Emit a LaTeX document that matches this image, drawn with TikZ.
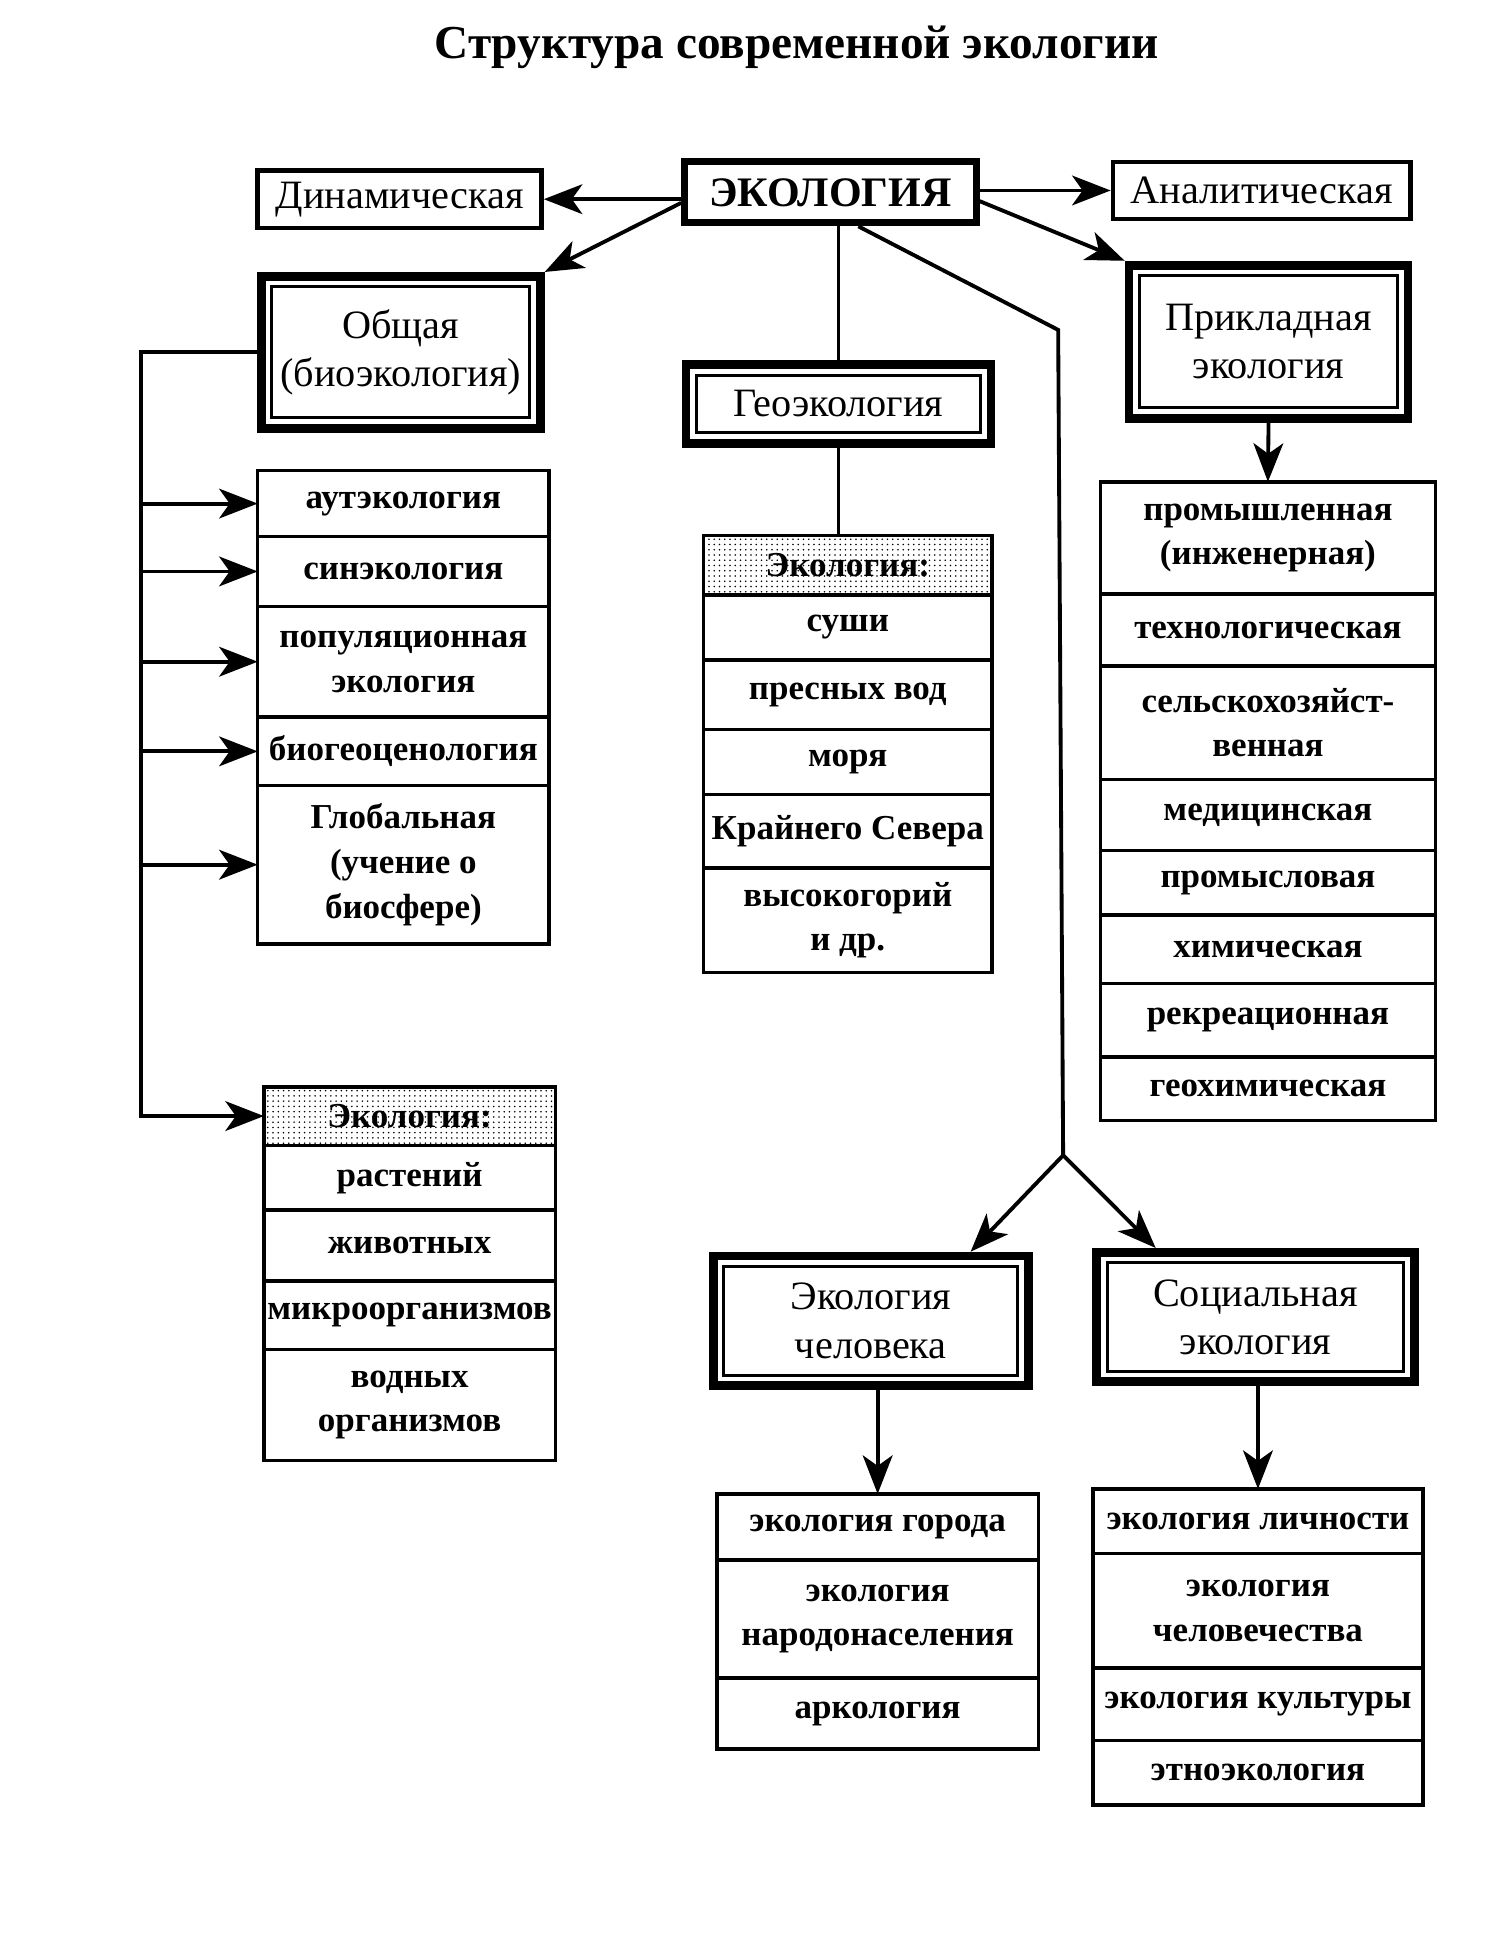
\documentclass[tikz,border=0pt]{standalone}
\usepackage{fontspec}
\setmainfont{Liberation Serif}
\usepackage{tikz}
\usetikzlibrary{arrows.meta}
\usetikzlibrary{patterns}
\usetikzlibrary{positioning}
\newcommand\cellfont{\bfseries\fontsize{20}{25.5}\selectfont}
\newcommand\boxfont{\fontsize{23}{27.5}\selectfont}
\tikzstyle{arrow} = [->,>={Stealth[length=22pt,width=17pt,inset=6pt]}, line width=2.2pt]
\tikzstyle{link} = [line width=2.2pt]
\tikzset{cell/.style={draw, line width=2pt, inner sep=1pt, outer sep=0pt, align=center, font=\cellfont},
  headcell/.style={cell, pattern=dots},
  box/.style={draw, line width=2.6pt, inner sep=1pt, align=center, font=\boxfont},
  bigbox/.style={draw, line width=5pt, inner sep=1pt, align=center, font=\boxfont},
  innerframe/.style={draw, line width=1.6pt}}

\begin{document}
\begin{tikzpicture}[x=0.025cm,y=-0.025cm]
        \useasboundingbox (0,0) rectangle (1210,1568);
        % Title
        \node (title) at (640,38) {\bfseries\fontsize{27}{30}\selectfont Структура современной экологии};

        % Top row
        \node[box, line width=4pt, font=\bfseries\fontsize{24}{28}\selectfont, minimum width=5.85cm, minimum height=1.225cm] (eco) at (667,154.5) {ЭКОЛОГИЯ};
        \node[box, minimum width=5.7cm, minimum height=1.15cm] (dyn) at (321,160) {Динамическая};
        \node[box, minimum width=5.975cm, minimum height=1.15cm] (anl) at (1013.5,153) {Аналитическая};

        % Double framed boxes
        \node[bigbox, minimum width=5.6cm, minimum height=3.05cm] (obsh) at (322,283) {Общая\\(биоэкология)};
        \draw[innerframe] ([shift={(8.5pt,-8.5pt)}]obsh.north west) rectangle ([shift={(-8.5pt,8.5pt)}]obsh.south east);
        \node[bigbox, minimum width=5.6cm, minimum height=3.075cm] (prikl) at (1019,274.5) {Прикладная\\экология};
        \draw[innerframe] ([shift={(8.5pt,-8.5pt)}]prikl.north west) rectangle ([shift={(-8.5pt,8.5pt)}]prikl.south east);
        \node[bigbox, minimum width=6.125cm, minimum height=1.575cm] (geo) at (673.5,324.5) {Геоэкология};
        \draw[innerframe] ([shift={(8.5pt,-8.5pt)}]geo.north west) rectangle ([shift={(-8.5pt,8.5pt)}]geo.south east);
        \node[bigbox, minimum width=6.325cm, minimum height=2.6cm] (human) at (699.5,1061) {Экология\\человека};
        \draw[innerframe] ([shift={(8.5pt,-8.5pt)}]human.north west) rectangle ([shift={(-8.5pt,8.5pt)}]human.south east);
        \node[bigbox, minimum width=6.375cm, minimum height=2.6cm] (social) at (1008.5,1058) {Социальная\\экология};
        \draw[innerframe] ([shift={(8.5pt,-8.5pt)}]social.north west) rectangle ([shift={(-8.5pt,8.5pt)}]social.south east);

        % Left column: branches of general ecology
        \begin{scope}[every node/.append style={minimum width=5.85cm}]
        \node[cell, minimum height=1.325cm, anchor=north] (aut) at (324,378) {аутэкология};
        \node[cell, minimum height=1.4cm, below=0pt of aut] (sin) {синэкология};
        \node[cell, minimum height=2.225cm, below=0pt of sin] (pop) {популяционная\\экология};
        \node[cell, minimum height=1.375cm, below=0pt of pop] (biog) {биогеоценология};
        \node[cell, minimum height=3.175cm, below=0pt of biog] (glob) {Глобальная\\(учение о\\биосфере)};
        \end{scope}

        % Left column: ecology of organisms
        \begin{scope}[every node/.append style={minimum width=5.85cm}]
        \node[headcell, minimum height=1.175cm, anchor=north] (hdrL) at (329,873) {Экология:};
        \node[cell, minimum height=1.3cm, below=0pt of hdrL] (rast) {растений};
        \node[cell, minimum height=1.425cm, below=0pt of rast] (zhiv) {животных};
        \node[cell, minimum height=1.375cm, below=0pt of zhiv] (mikr) {микроорганизмов};
        \node[cell, minimum height=2.225cm, below=0pt of mikr] (vodn) {водных\\организмов};
        \end{scope}

        % Middle column: geoecology
        \begin{scope}[every node/.append style={minimum width=5.8cm}]
        \node[headcell, minimum height=1.2cm, anchor=north] (hdrC) at (681,430) {Экология:};
        \node[cell, minimum height=1.3cm, below=0pt of hdrC] (sushi) {суши};
        \node[cell, minimum height=1.4cm, below=0pt of sushi] (presn) {пресных вод};
        \node[cell, minimum height=1.3cm, below=0pt of presn] (morya) {моря};
        \node[cell, minimum height=1.475cm, below=0pt of morya] (sever) {Крайнего Севера};
        \node[cell, minimum height=2.1cm, below=0pt of sever] (vysok) {высокогорий\\и др.};
        \end{scope}

        % Right column: applied ecology
        \begin{scope}[every node/.append style={minimum width=6.725cm}]
        \node[cell, minimum height=2.25cm, anchor=north] (prom) at (1018.5,387) {промышленная\\(инженерная)};
        \node[cell, minimum height=1.45cm, below=0pt of prom] (tehn) {технологическая};
        \node[cell, minimum height=2.275cm, below=0pt of tehn] (selh) {сельскохозяйст-\\венная};
        \node[cell, minimum height=1.425cm, below=0pt of selh] (med) {медицинская};
        \node[cell, minimum height=1.3cm, below=0pt of med] (promysl) {промысловая};
        \node[cell, minimum height=1.375cm, below=0pt of promysl] (him) {химическая};
        \node[cell, minimum height=1.475cm, below=0pt of him] (rekr) {рекреационная};
        \node[cell, minimum height=1.275cm, below=0pt of rekr] (geoh) {геохимическая};
        \end{scope}

        % Bottom: human ecology
        \begin{scope}[every node/.append style={minimum width=6.45cm}]
        \node[cell, minimum height=1.325cm, anchor=north] (gorod) at (705,1200) {экология города};
        \node[cell, minimum height=2.375cm, below=0pt of gorod] (narod) {экология\\народонаселения};
        \node[cell, minimum height=1.425cm, below=0pt of narod] (arko) {аркология};
        \end{scope}

        % Bottom: social ecology
        \begin{scope}[every node/.append style={minimum width=6.625cm}]
        \node[cell, minimum height=1.3cm, anchor=north] (lichn) at (1010.5,1196) {экология личности};
        \node[cell, minimum height=2.3cm, below=0pt of lichn] (chelov) {экология\\человечества};
        \node[cell, minimum height=1.45cm, below=0pt of chelov] (kult) {экология культуры};
        \node[cell, minimum height=1.3cm, below=0pt of kult] (etno) {этноэкология};
        \end{scope}

        % Connectors from the top
        \draw[arrow] (eco.west |- dyn.east) -- (dyn.east);
        \draw[arrow] (eco.east |- anl.west) -- (anl.west);
        \draw[arrow] ([yshift=-6pt]eco.west) -- (obsh.north east);
        \draw[arrow] ([yshift=-5pt]eco.east) -- (prikl.north west);
        \draw[link] (geo.north |- eco.south) -- (geo.north);
        \draw[link] (geo.south) -- (geo.south |- hdrC.north);
        \draw[arrow] (prikl.south) -- (prom.north);

        % Long branch to human and social ecology
        \coordinate (bend) at (850,265);
        \coordinate (split) at (854,928);
        \draw[link] ([xshift=16pt]eco.south) -- (bend) -- (split);
        \draw[arrow] (split) -- ([xshift=57pt]human.north);
        \draw[arrow] (split) -- ([xshift=-57pt]social.north);
        \draw[arrow] (human.south -| gorod.north) -- (gorod.north);
        \draw[arrow] (social.south -| lichn.north) -- (lichn.north);

        % Left trunk
        \coordinate (trunk) at (113,0);
        \draw[arrow] (obsh.west) -- (obsh.west -| trunk) |- (hdrL.west);
        \foreach \n in {aut,sin,pop,biog,glob}
            \draw[arrow] (trunk |- \n.west) -- (\n.west);
    \end{tikzpicture}
\end{document}
